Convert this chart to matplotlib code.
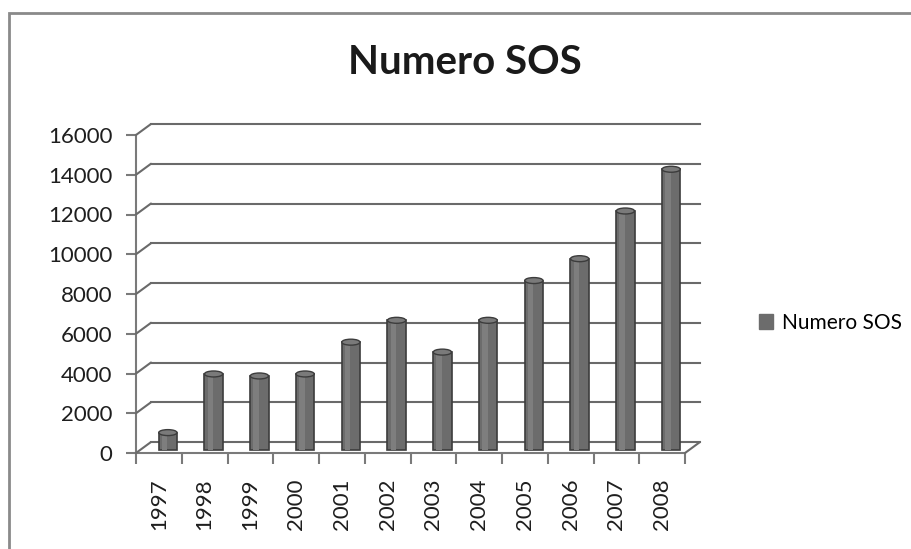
import matplotlib.pyplot as plt
import matplotlib.transforms as mtransforms
from matplotlib.patches import ConnectionPatch, Ellipse, Rectangle, Patch

years = ['1997', '1998', '1999', '2000', '2001', '2002',
         '2003', '2004', '2005', '2006', '2007', '2008']
sos = [850, 3800, 3700, 3800, 5400, 6500, 4900, 6500, 8500, 9600, 12000, 14100]
yticks = [0, 2000, 4000, 6000, 8000, 10000, 12000, 14000, 16000]

plt.rcParams['font.family'] = ['Lato', 'DejaVu Sans']

fig = plt.figure(figsize=(9.11, 5.49), dpi=100)
ax = fig.add_axes([136 / 911, 1 - 453 / 549, (685 - 136) / 911, (453 - 135) / 549])
ax.set_xlim(-0.5, len(years) - 0.5)
ax.set_ylim(0, 16000)

# fake 3d depth: back wall offset and bar offset
back = mtransforms.ScaledTranslation(0.15, 0.11, fig.dpi_scale_trans)
mid = mtransforms.ScaledTranslation(0.09, 0.035, fig.dpi_scale_trans)

grid_c = '#6a6a6a'
for v in yticks:
    ax.plot([0, 1], [v, v], color=grid_c, lw=1.5, clip_on=False,
            transform=ax.get_yaxis_transform() + back, zorder=1)
    con = ConnectionPatch(xyA=(0, v), coordsA=ax.get_yaxis_transform(),
                          xyB=(0, v), coordsB=ax.get_yaxis_transform() + back,
                          color=grid_c, lw=1.5)
    fig.add_artist(con)
con = ConnectionPatch(xyA=(1, 0), coordsA=ax.transAxes,
                      xyB=(1, 0), coordsB=ax.transAxes + back,
                      color=grid_c, lw=1.5)
fig.add_artist(con)

x = list(range(len(years)))
bw = 0.4
ax.bar(x, sos, width=bw, color='#6c6c6c', edgecolor='#3c3c3c', lw=1.2,
       transform=ax.transData + mid, zorder=3)
ax.bar([i - 0.07 for i in x], sos, width=0.12, color='#7e7e7e', lw=0,
       transform=ax.transData + mid, zorder=3)
for i, v in zip(x, sos):
    ax.add_patch(Ellipse((i, v), bw, 300, facecolor='#7a7a7a', edgecolor='#3c3c3c',
                         lw=1.0, transform=ax.transData + mid, zorder=4))

for s in ['top', 'right']:
    ax.spines[s].set_visible(False)
for s in ['left', 'bottom']:
    ax.spines[s].set_color('#7a7a7a')
    ax.spines[s].set_linewidth(1.5)

ax.set_yticks(yticks)
ax.set_yticklabels([str(v) for v in yticks], fontsize=16, color='#1e1e1e')
ax.set_xticks([i - 0.5 for i in range(len(years) + 1)], minor=False)
ax.set_xticklabels([''] * (len(years) + 1))
ax.set_xticks(x, minor=True)
ax.set_xticklabels(years, minor=True, rotation=90, fontsize=16, color='#1e1e1e')
ax.tick_params(axis='x', which='major', length=8, color='#7a7a7a', width=1.5)
ax.tick_params(axis='x', which='minor', length=0, pad=18)
ax.tick_params(axis='y', length=7, color='#7a7a7a', width=1.5, pad=10)
ax.patch.set_alpha(0)

fig.suptitle('Numero SOS', x=465 / 911, y=1 - 44 / 549, fontsize=29,
             fontweight='bold', color='#1a1a1a')

fig.legend(handles=[Patch(facecolor='#6c6c6c', edgecolor='#6c6c6c')],
           labels=['Numero SOS'], loc='center left',
           bbox_to_anchor=(740 / 911, 1 - 323 / 549), frameon=False,
           fontsize=15, handlelength=0.7, handleheight=0.7, handletextpad=0.4)

fig.add_artist(Rectangle((9 / 911, -0.1), 1.2, 1.1 - 13 / 549, transform=fig.transFigure,
                         fill=False, edgecolor='#8a8a8a', lw=2))

fig.savefig('out.png', dpi=100)
